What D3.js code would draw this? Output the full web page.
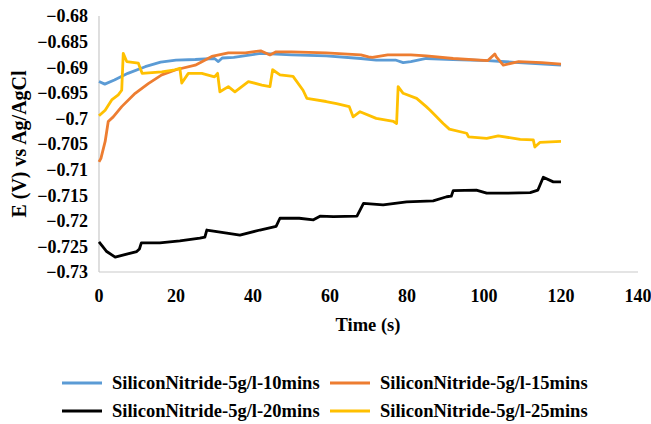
<!DOCTYPE html>
<html>
<head>
<meta charset="utf-8">
<script src="https://cdn.jsdelivr.net/npm/d3@7"></script>
<style>
  body { margin: 0; background: #fff; }
  text { font-family: "Liberation Serif", "Times New Roman", serif; font-weight: bold; fill: #000; }
</style>
</head>
<body>
<script>
// DATA (time in s, potential in V)
var blueT = [0, 1.5, 4, 7.5, 12, 16, 20, 25, 30, 31, 32, 35, 42, 50, 59, 68, 72, 77, 79, 81, 85, 92, 101, 109, 120];
var blueV = [-0.6928, -0.6933, -0.6925, -0.6912, -0.6899, -0.6890, -0.6886, -0.6885, -0.6883, -0.6889, -0.6882, -0.6881, -0.6873, -0.6876, -0.6878, -0.6883, -0.6886, -0.6886, -0.6891, -0.6889, -0.6883, -0.6885, -0.6887, -0.6891, -0.6896];

var orangeT = [0, 0.5, 1.6, 2.4, 3.7, 5.9, 9.4, 12.8, 16.3, 20, 25, 29.3, 33.6, 38, 42, 44.4, 46, 50, 59, 68, 70, 71, 75, 81, 85, 92, 101, 102.8, 103.2, 105, 109, 115, 120];
var orangeV = [-0.7085, -0.7078, -0.7045, -0.7006, -0.6997, -0.6977, -0.6951, -0.6932, -0.6915, -0.6905, -0.6896, -0.6879, -0.6872, -0.6872, -0.6868, -0.6876, -0.6870, -0.6870, -0.6872, -0.6876, -0.6880, -0.6881, -0.6876, -0.6876, -0.6878, -0.6883, -0.6887, -0.6874, -0.6880, -0.6896, -0.6889, -0.6891, -0.6894];

var blackT = [0, 2, 4.2, 7.2, 9.8, 10.5, 11, 15.8, 21, 26.2, 27.5, 28, 33.2, 36.6, 41.8, 46, 47, 52, 55.7, 57.4, 60.9, 67, 68.7, 73.8, 79.9, 86.8, 90.3, 91.5, 92, 98, 100.7, 105.9, 112, 114, 115.4, 118, 120];
var blackV = [-0.7241, -0.7260, -0.7271, -0.7265, -0.7260, -0.7255, -0.7243, -0.7243, -0.7239, -0.7234, -0.7232, -0.7218, -0.7224, -0.7228, -0.7218, -0.7211, -0.7195, -0.7195, -0.7198, -0.7191, -0.7192, -0.7191, -0.7166, -0.7169, -0.7163, -0.7161, -0.7153, -0.7152, -0.7141, -0.7140, -0.7146, -0.7146, -0.7145, -0.7140, -0.7115, -0.7124, -0.7124];

var yellowT = [0, 1.6, 3.3, 5, 5.9, 6.3, 7.2, 10.2, 11.2, 16.3, 19.7, 21, 21.5, 23.2, 26.7, 30, 30.8, 31.4, 33.6, 35.3, 38.8, 42.3, 44.4, 45.1, 47, 50.4, 53, 54, 59, 61.7, 65, 66, 67.8, 72, 76.5, 77.3, 77.7, 79, 82.5, 85, 86, 89.4, 91, 95.5, 96, 100.7, 103.7, 109.4, 112.8, 113.2, 114.5, 120];
var yellowV = [-0.6995, -0.6984, -0.6964, -0.6954, -0.6945, -0.6873, -0.6889, -0.6892, -0.6912, -0.6909, -0.6905, -0.6902, -0.6931, -0.6912, -0.6912, -0.6919, -0.6912, -0.6948, -0.6938, -0.6948, -0.6928, -0.6935, -0.6938, -0.6905, -0.6915, -0.6918, -0.6945, -0.6961, -0.6967, -0.6971, -0.6977, -0.6997, -0.6987, -0.7000, -0.7006, -0.7010, -0.6938, -0.6951, -0.6961, -0.6977, -0.6984, -0.7010, -0.7021, -0.7029, -0.7036, -0.7039, -0.7034, -0.7041, -0.7042, -0.7056, -0.7047, -0.7045];

var seriesNames = ["SiliconNitride-5g/l-10mins", "SiliconNitride-5g/l-15mins", "SiliconNitride-5g/l-20mins", "SiliconNitride-5g/l-25mins"];
var xTicks = [0, 20, 40, 60, 80, 100, 120, 140];
var yTicks = [-0.68, -0.685, -0.69, -0.695, -0.7, -0.705, -0.71, -0.715, -0.72, -0.725, -0.73];

var width = 651, height = 424;

var svg = d3.select("body").append("svg")
    .attr("width", width)
    .attr("height", height);

// scales
var x = d3.scaleLinear().domain([0, 140]).range([99, 638]);
var y = d3.scaleLinear().domain([-0.73, -0.68]).range([272, 16]);

// axis lines (light gray, no ticks)
svg.append("line").attr("x1", 99).attr("x2", 99).attr("y1", 16).attr("y2", 272)
    .attr("stroke", "#c9c9c9").attr("stroke-width", 1.2);
svg.append("line").attr("x1", 99).attr("x2", 638).attr("y1", 272).attr("y2", 272)
    .attr("stroke", "#c9c9c9").attr("stroke-width", 1.2);

// tick labels
svg.selectAll(".ylab").data(yTicks).enter().append("text")
    .attr("x", 88)
    .attr("y", function(d) { return y(d); })
    .attr("dy", "0.35em")
    .attr("text-anchor", "end")
    .style("font-size", "18px")
    .text(function(d) { return d3.format("")(d); });

svg.selectAll(".xlab").data(xTicks).enter().append("text")
    .attr("x", function(d) { return x(d); })
    .attr("y", 302)
    .attr("text-anchor", "middle")
    .style("font-size", "18px")
    .text(function(d) { return d; });

// axis titles
svg.append("text").attr("x", 368).attr("y", 331).attr("text-anchor", "middle")
    .style("font-size", "18.5px").text("Time (s)");
svg.append("text").attr("transform", "translate(26,144) rotate(-90)").attr("text-anchor", "middle")
    .style("font-size", "20px").text("E (V) vs Ag/AgCl");

// series
var series = [
  { t: blueT, v: blueV, color: "#5b9bd5" },
  { t: orangeT, v: orangeV, color: "#ed7d31" },
  { t: blackT, v: blackV, color: "#000000" },
  { t: yellowT, v: yellowV, color: "#ffc000" }
];

var line = d3.line()
    .x(function(d) { return x(d[0]); })
    .y(function(d) { return y(d[1]); });

// draw order: blue, orange, black, yellow
series.forEach(function(s) {
  svg.append("path")
      .datum(d3.zip(s.t, s.v))
      .attr("d", line)
      .attr("fill", "none")
      .attr("stroke", s.color)
      .attr("stroke-width", 2.8)
      .attr("stroke-linejoin", "round");
});

// legend, 2 columns x 2 rows
var legX = [62, 330], legY = [383, 411];
series.forEach(function(s, i) {
  var lx = legX[i % 2], ly = legY[Math.floor(i / 2)];
  svg.append("line").attr("x1", lx).attr("x2", lx + 40).attr("y1", ly).attr("y2", ly)
      .attr("stroke", s.color).attr("stroke-width", 3);
  svg.append("text").attr("x", lx + 50).attr("y", ly).attr("dy", "0.35em")
      .style("font-size", "18.5px").text(seriesNames[i]);
});
</script>
</body>
</html>
